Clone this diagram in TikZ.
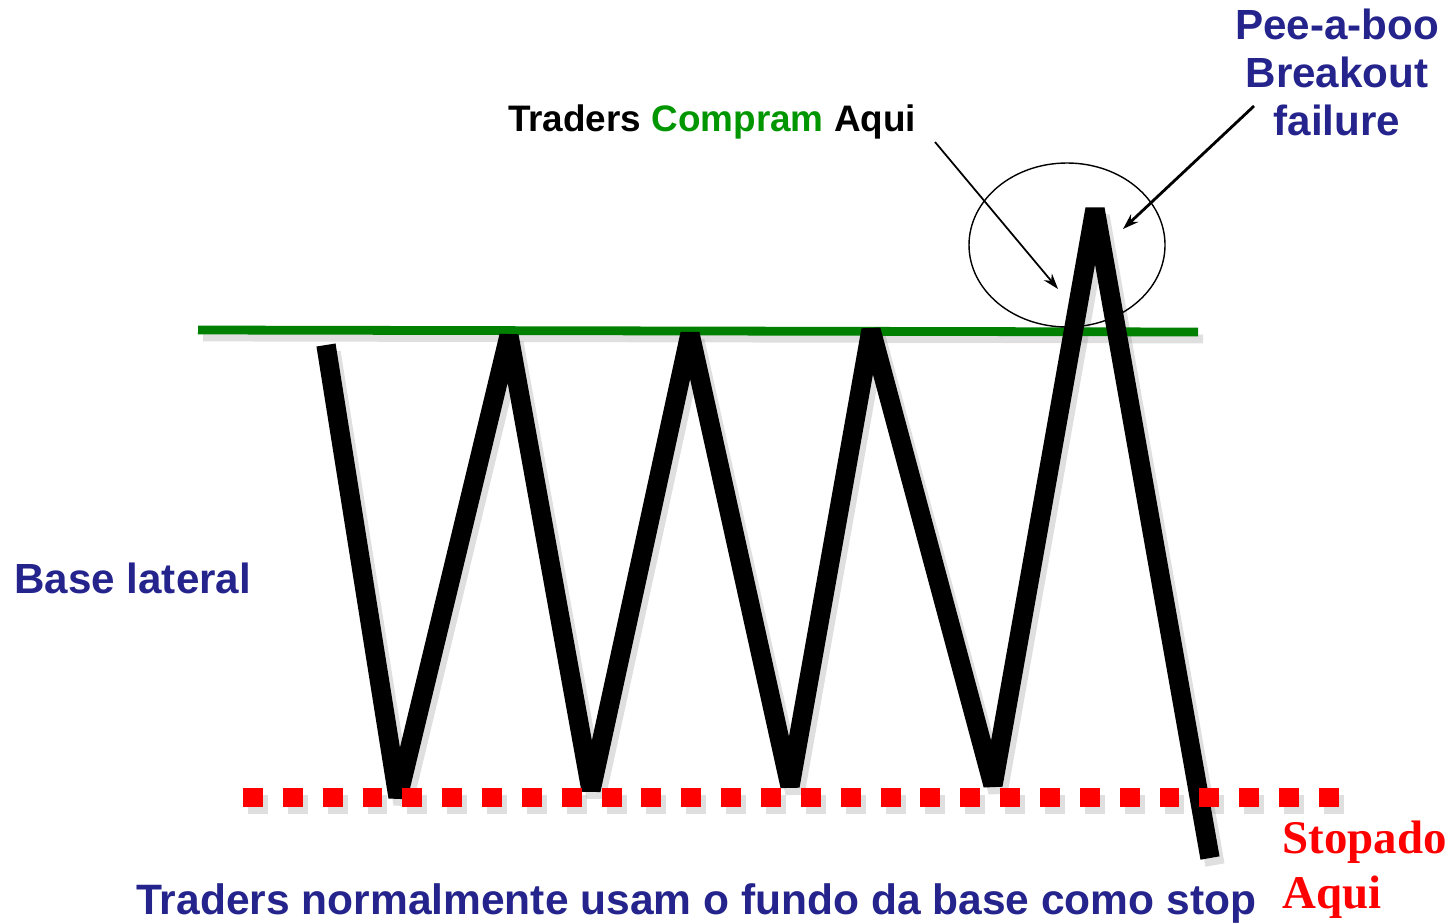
\documentclass[tikz,border=0pt]{standalone}
\usepackage{fontspec}
\setmainfont{Liberation Sans}
\newfontfamily\serifbold{Liberation Serif}
\usetikzlibrary{arrows.meta,positioning}

\definecolor{tagblue}{RGB}{36,36,140}
\definecolor{linegreen}{RGB}{0,128,0}
\definecolor{buygreen}{RGB}{0,150,0}

\begin{document}
\begin{tikzpicture}[x=0.02cm, y=-0.02cm,
  support/.style={draw=linegreen, line width=5pt},
  price/.style={draw=black, line width=11pt, line join=bevel},
  stopline/.style={draw=red, line width=10.8pt, dash pattern=on 11.34pt off 11.34pt},
  dropshade/.style={draw=gray, opacity=0.25, shift={(5,7)}},
  tag/.style={text=tagblue, font=\fontsize{24}{27.2}\selectfont\bfseries, inner sep=0pt},
  buytag/.style={font=\fontsize{21}{24}\selectfont\bfseries, fill=white, inner sep=6pt},
  stoptag/.style={text=red, font=\fontsize{26.7}{31.2}\selectfont\serifbold\bfseries, inner sep=0pt, align=left},
  callout/.style={-{Stealth[length=9pt,width=6pt]}, black}
]
\useasboundingbox (0,0) rectangle (1452,923);

% Shadows under the lines
\draw[support, dropshade] (198,330) -- (1198,332);
\draw[price, dropshade] (326,345) -- (398,797) -- (509,336) -- (591,790) -- (690,334)
  -- (790,786) -- (871,330) -- (993,785) -- (1095,209) -- (1210,858);
\draw[stopline, dropshade] (243,797) -- (1343,797);

% Top of the base
\draw[support] (198,330) -- (1198,332);

% Price swings
\draw[price] (326,345) -- (398,797) -- (509,336) -- (591,790) -- (690,334)
  -- (790,786) -- (871,330) -- (993,785) -- (1095,209) -- (1210,858);

% Bottom of the base (stops)
\draw[stopline] (243,797) -- (1343,797);

% Breakout ring
\draw[line width=0.8pt] (1067,245) ellipse [x radius=98, y radius=82];

% Labels
\node[tag, align=center, anchor=north] (peek) at (1337,9) {Pee-a-boo\\Breakout\\failure};
\node[buytag, anchor=base] (buy) at (712,131) {Traders \textcolor{buygreen}{Compram} Aqui};
\node[tag, anchor=base west] (base) at (14,593) {Base lateral};
\node[tag, anchor=base west, font=\fontsize{24.2}{27.2}\selectfont\bfseries] (rule) at (136,914) {Traders normalmente usam o fundo da base como stop};
\node[stoptag, anchor=north west] (stopped) at (1282,821) {Stopado\\Aqui};

% Callouts
\coordinate (buyfoot) at (935,142);
\coordinate (breach) at (1058,289);
\coordinate (peekfoot) at (1254,106);
\coordinate (fail) at (1123,229);
\draw[callout, line width=1pt] (buyfoot) -- (breach);
\draw[callout, line width=1.6pt] (peekfoot) -- (fail);

\end{tikzpicture}
\end{document}
